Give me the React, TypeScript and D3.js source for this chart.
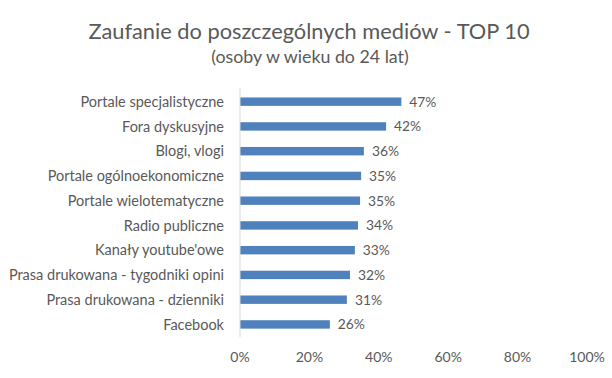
import React from "react";
import * as d3 from "d3";

const categories = [
  "Portale specjalistyczne",
  "Fora dyskusyjne",
  "Blogi, vlogi",
  "Portale ogólnoekonomiczne",
  "Portale wielotematyczne",
  "Radio publiczne",
  "Kanały youtube'owe",
  "Prasa drukowana - tygodniki opini",
  "Prasa drukowana - dzienniki",
  "Facebook",
];
const values = [46.5, 42.1, 35.7, 34.9, 34.6, 34.0, 33.1, 31.7, 30.8, 25.9];
const labels = ["47%", "42%", "36%", "35%", "35%", "34%", "33%", "32%", "31%", "26%"];
const ticks = [0, 20, 40, 60, 80, 100];

const W = 612, H = 378;
const FONT = "Lato, 'Noto Sans', sans-serif";
const TXT = "#595959";

export default function App() {
  const x = d3.scaleLinear().domain([0, 100]).range([240, 587]);
  const y = d3.scaleBand().domain(categories).range([89.3, 336.8]).paddingInner(0.66).paddingOuter(0.33);
  return (
    <svg width={W} height={H} style={{ position: "absolute", left: 0, top: 0, background: "#fff" }} fontFamily={FONT}>
      <rect width={W} height={H} fill="#fff" />
      <text x={309} y={39} textAnchor="middle" fontSize={21.8} fill={TXT}>
        Zaufanie do poszczególnych mediów - TOP 10
      </text>
      <text x={310} y={63} textAnchor="middle" fontSize={17.8} fill={TXT}>
        (osoby w wieku do 24 lat)
      </text>
      {categories.map((c, i) => {
        const yc = (y(c) as number) + y.bandwidth() / 2;
        return (
          <g key={c}>
            <rect x={x(0)} y={y(c)} width={x(values[i]) - x(0)} height={y.bandwidth()} fill="#4F81BD" />
            <text x={224} y={yc} dy="0.35em" textAnchor="end" fontSize={14.5} fill={TXT}>{c}</text>
            <text x={x(values[i]) + 8} y={yc} dy="0.35em" fontSize={13.8} fill={TXT}>{labels[i]}</text>
          </g>
        );
      })}
      <line x1={x(0)} x2={x(0)} y1={88} y2={337} stroke="#D9D9D9" strokeWidth={1} />
      {ticks.map((t) => (
        <text key={t} x={x(t)} y={357} dy="0.35em" textAnchor="middle" fontSize={14} fill={TXT}>{t}%</text>
      ))}
    </svg>
  );
}
